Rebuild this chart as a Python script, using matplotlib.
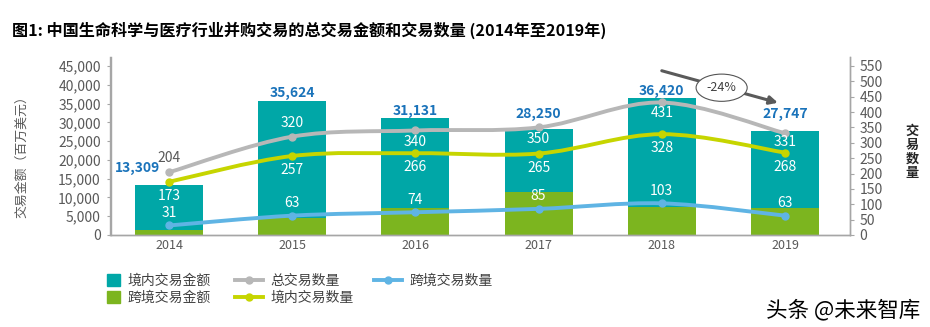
import numpy as np
import matplotlib.pyplot as plt
from matplotlib.path import Path
from matplotlib.patches import PathPatch, Patch
from matplotlib.lines import Line2D

plt.rcParams['font.family'] = ['Noto Sans CJK SC', 'DejaVu Sans']
plt.rcParams['figure.dpi'] = 100

# data (millions USD / number of deals)
years = ['2014', '2015', '2016', '2017', '2018', '2019']
total_amount = [13309, 35624, 31131, 28250, 36420, 27747]
cross_amount = [1200, 4400, 7200, 11500, 7500, 7100]
total_deals = [204, 320, 340, 350, 431, 331]
domestic_deals = [173, 257, 266, 265, 328, 268]
cross_deals = [31, 63, 74, 85, 103, 63]

domestic_amount = [t - c for t, c in zip(total_amount, cross_amount)]

teal = '#00a7a7'
green = '#7cb51f'
gray_line = '#b7b7b7'
yellow_line = '#c6d500'
blue_line = '#5fb4e4'
total_blue = '#1a73ba'
tick_gray = '#595959'


def smooth_path(xs, ys):
    # cubic bezier (catmull-rom style) through the points
    pts = np.column_stack([xs, ys]).astype(float)
    n = len(pts)
    verts = [pts[0]]
    codes = [Path.MOVETO]
    for i in range(n - 1):
        p0 = pts[i - 1] if i > 0 else pts[i]
        p1 = pts[i]
        p2 = pts[i + 1]
        p3 = pts[i + 2] if i + 2 < n else pts[i + 1]
        c1 = p1 + (p2 - p0) / 6
        c2 = p2 - (p3 - p1) / 6
        verts += [c1, c2, p2]
        codes += [Path.CURVE4] * 3
    return Path(verts, codes)


fig = plt.figure(figsize=(9.3, 3.27))
ax = fig.add_axes([110.5 / 930, 1 - 235 / 327, (850 - 110.5) / 930, 178 / 327])
ax2 = ax.twinx()

x = np.arange(len(years))
w = 0.552
ax.bar(x, cross_amount, w, color=green, zorder=2)
ax.bar(x, domestic_amount, w, bottom=cross_amount, color=teal, zorder=2)

ax.set_xlim(-0.475, 5.528)
ax.set_ylim(0, 47400)
ax2.set_ylim(0, 579)
ax.set_yticks(np.arange(0, 45001, 5000))
ax.set_yticklabels(['{:,}'.format(v) for v in range(0, 45001, 5000)])
ax2.set_yticks(np.arange(0, 551, 50))
ax.set_xticks(x)
ax.set_xticklabels(years)

for a in (ax, ax2):
    a.spines['top'].set_visible(False)
    for s in ['left', 'right', 'bottom']:
        a.spines[s].set_color('#a6a6a6')
        a.spines[s].set_linewidth(1.0)
ax.tick_params(axis='y', length=3, color='#a6a6a6', labelsize=10, labelcolor=tick_gray, pad=4)
ax2.tick_params(axis='y', length=3, color='#a6a6a6', labelsize=10, labelcolor=tick_gray, pad=4)
ax.tick_params(axis='x', length=0, labelsize=9, labelcolor=tick_gray, pad=3)
for lab in ax.get_yticklabels() + ax2.get_yticklabels() + ax.get_xticklabels():
    lab.set_fontweight('light')

ax2.patch.set_visible(False)

# smoothed lines with markers on the right axis
for vals, col in [(total_deals, gray_line), (domestic_deals, yellow_line), (cross_deals, blue_line)]:
    ax2.add_patch(PathPatch(smooth_path(x, vals), fill=False, ec=col, lw=2.8,
                            capstyle='round', zorder=3))
    ax2.plot(x, vals, 'o', color=col, ms=5, zorder=4)

# data labels
gray_off = [14, 14, -12, -12, -11, -9]
for i, v in enumerate(total_deals):
    c = tick_gray if i == 0 else 'white'
    ax2.annotate(str(v), (x[i], v), xytext=(0, gray_off[i] * 0.72), textcoords='offset points',
                 ha='center', va='center', fontsize=10, color=c, zorder=5)
for i, v in enumerate(domestic_deals):
    ax2.annotate(str(v), (x[i], v), xytext=(0, -14 * 0.72), textcoords='offset points',
                 ha='center', va='center', fontsize=10, color='white', zorder=5)
for i, v in enumerate(cross_deals):
    ax2.annotate(str(v), (x[i], v), xytext=(0, 12.5 * 0.72), textcoords='offset points',
                 ha='center', va='center', fontsize=10, color='white', zorder=5)

tot_off = [(-32, 17), (0, 8.5), (0, 7), (0, 15), (0, 7.5), (0, 16.5)]
for i, v in enumerate(total_amount):
    dx, dy = tot_off[i]
    ax.annotate('{:,}'.format(v), (x[i], v), xytext=(dx * 0.72, dy * 0.72),
                textcoords='offset points', ha='center', va='center',
                fontsize=10, fontweight='bold', color=total_blue, zorder=5)

# -24% arrow
ax2.annotate('', xy=(4.943, 35220 * 579 / 47400), xytext=(4.0, 43740 * 579 / 47400),
             arrowprops=dict(arrowstyle='-|>', color='#5a5a5a', lw=2.2,
                             mutation_scale=12, shrinkA=0, shrinkB=0), zorder=6)
ax2.text(4.486, 39220 * 579 / 47400, '-24%', ha='center', va='center', fontsize=9,
         color='#404040', zorder=7,
         bbox=dict(boxstyle='ellipse,pad=0.25', fc='white', ec='#555555', lw=0.8))

# axis titles
fig.text(21.5 / 930, 1 - 154 / 327, '交易金额（百万美元）', rotation=90, ha='center', va='center',
         fontsize=9.3, color=tick_gray)
fig.text(912 / 930, 1 - 152 / 327, '交\n易\n数\n量', ha='center', va='center',
         fontsize=9.5, color='#262626', linespacing=1.0, fontweight='bold')

# title
fig.text(12 / 930, 1 - 30 / 327, '图1: 中国生命科学与医疗行业并购交易的总交易金额和交易数量 (2014年至2019年)',
         ha='left', va='center', fontsize=11.6, fontweight='bold', color='black')

# legends
sq_handles = [Patch(color=teal), Patch(color=green)]
fig.legend(sq_handles, ['境内交易金额', '跨境交易金额'], loc='upper left',
           bbox_to_anchor=(107 / 930, 1 - 274 / 327), frameon=False, fontsize=10,
           handlelength=0.9, handleheight=0.9, handletextpad=0.55,
           labelspacing=0.2, borderpad=0, borderaxespad=0, labelcolor='#404040')
ln_handles = [Line2D([], [], color=gray_line, lw=2.8, marker='o', ms=5),
              Line2D([], [], color=yellow_line, lw=2.8, marker='o', ms=5),
              Line2D([], [], color=blue_line, lw=2.8, marker='o', ms=5)]
fig.legend(ln_handles, ['总交易数量', '境内交易数量', '跨境交易数量'], loc='upper left',
           bbox_to_anchor=(235 / 930, 1 - 274 / 327), frameon=False, fontsize=10, ncol=2,
           handlelength=2.0, handletextpad=0.55, columnspacing=1.45,
           labelspacing=0.2, borderpad=0, borderaxespad=0, labelcolor='#404040')

# watermark
fig.text(920 / 930, 1 - 310 / 327, '头条 @未来智库', ha='right', va='center', fontsize=15.5,
         color='black')

fig.savefig('out.png', dpi=100)
